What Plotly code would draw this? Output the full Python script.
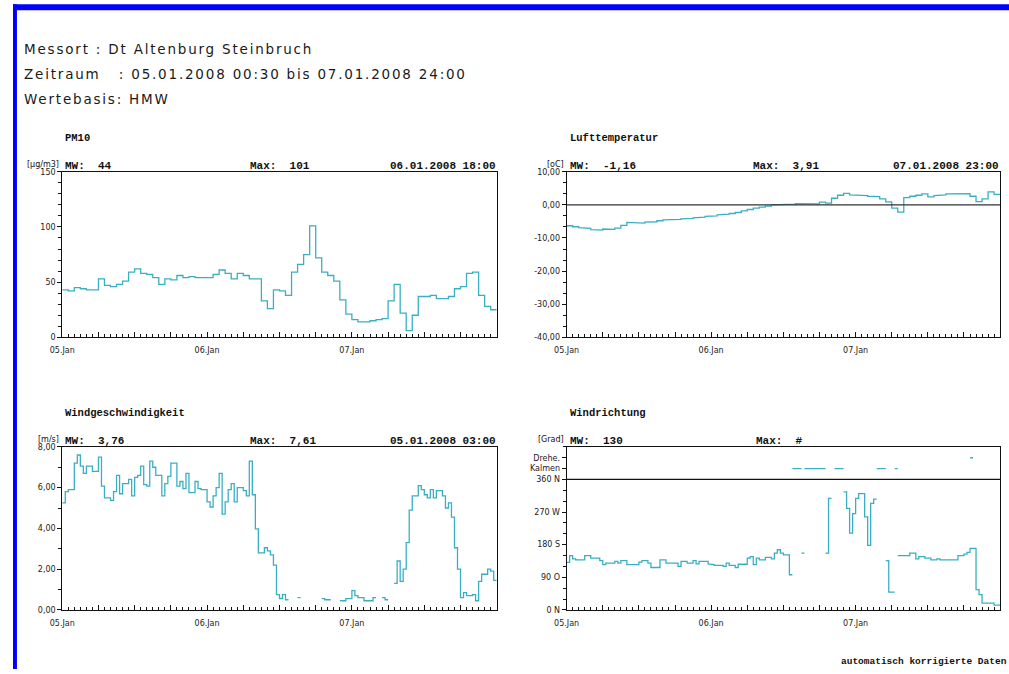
import plotly.graph_objects as go
from datetime import datetime, timedelta

# ---------------- data ----------------
START = datetime(2008, 1, 5, 0, 0)
END = datetime(2008, 1, 8, 0, 0)
DAY_TICKS = [datetime(2008, 1, 5), datetime(2008, 1, 6), datetime(2008, 1, 7)]
DAY_LABELS = ["05.Jan", "06.Jan", "07.Jan"]

# hourly readings (value of the hour ending at +1h)
PM10 = [43, 42, 45, 44, 43, 43, 53, 47, 46, 48, 51, 59, 62, 58, 57, 54, 48, 53, 52, 56, 54, 55, 54, 54,
        54, 57, 61, 58, 53, 58, 56, 53, 53, 33, 26, 43, 42, 38, 59, 66, 75, 101, 72, 59, 56, 51, 34, 21,
        16, 14, 14, 15, 16, 17, 33, 48, 22, 6, 20, 37, 37, 38, 35, 35, 37, 44, 46, 58, 59, 38, 28, 25]

TEMP = [-6.3, -6.6, -6.9, -7.1, -7.5, -7.6, -7.3, -7.4, -7.0, -6.2, -5.3, -5.3, -5.5, -5.2, -5.1, -4.8,
        -4.5, -4.6, -4.4, -4.2, -4.1, -3.9, -3.7, -3.5,
        -3.3, -3.0, -2.8, -2.6, -2.3, -1.8, -1.4, -1.0, -0.7, -0.4, 0.0, 0.1, 0.2, 0.2, 0.4, 0.3,
        0.2, 0.3, 0.8, 0.5, 2.0, 2.9, 3.5, 3.0,
        2.9, 2.8, 2.6, 2.5, 1.8, 0.9, -1.0, -2.2, 2.2, 2.6, 2.9, 3.3, 2.4, 2.8, 3.0, 3.3,
        3.4, 3.4, 3.4, 2.6, 1.0, 1.8, 3.9, 3.2]

# half-hourly readings
WIND_SPEED = [5.25, 5.8, 5.9, 5.9, 7.2, 7.6, 7.05, 6.7, 7.05, 7.05, 6.8, 6.8,
              7.5, 6.07, 5.5, 5.5, 5.37, 5.8, 6.6, 5.7, 6.2, 6.2, 6.4, 5.6,
              6.5, 6.6, 7.05, 6.15, 6.07, 7.3, 7.0, 6.6, 6.6, 5.6, 6.2, 6.55,
              7.2, 7.2, 6.07, 6.3, 5.95, 6.7, 5.75, 5.75, 6.3, 5.95, 5.9, 5.9,
              5.3, 5.05, 5.6, 6.0, 6.7, 4.7, 5.3, 5.9, 6.2, 5.3, 6.0, 6.0,
              5.85, 5.6, 7.3, 5.65, 3.98, 2.8, 2.8, 3.05, 2.9, 2.7, 2.2, 0.75,
              0.56, 0.75, 0.5, None, None, None, 0.6, None, None, None, None, None,
              None, None, 0.55, 0.5, 0.5, None, None, None, 0.45, 0.45, 0.55, 0.55,
              0.95, 0.7, 0.6, 0.6, 0.45, 0.45, 0.45, 0.6, None, None, 0.6, 0.5,
              None, None, 1.3, 2.4, 1.4, 2.0, 3.3, 4.9, 5.6, 5.6, 6.1, 5.9,
              5.65, 5.5, 5.9, 5.5, 5.85, 5.85, 5.6, 5.0, 5.25, 4.55, 3.05, 2.0,
              0.6, 0.85, 0.7, 0.7, 0.75, 0.45, 1.4, 1.75, 1.75, 2.0, 1.9, 1.45]

WIND_DIR = [131, 150, 141, 138, 138, 138, 150, 150, 143, 143, 143, 136,
            125, 129, 129, 129, 134, 129, 136, 136, 125, 125, 125, 125,
            132, 136, 136, 129, 117, 117, 117, 138, 138, 129, 129, 129,
            129, 120, 134, 134, 129, 129, 136, 127, 134, 134, 134, 127,
            125, 123, 123, 123, 120, 129, 123, 123, 117, 126, 126, 126,
            143, 147, 125, 143, 138, 138, 145, 145, 141, 157, 166, 157,
            152, 152, 97, None, None, None, 157, None, None, None, None, None,
            None, None, 157, 308, None, None, None, None, 326, 280, 212, 266,
            308, 321, 321, 257, 178, 294, 306, None, None, None, 136, 49,
            49, None, 150, 150, 150, 150, 157, 157, 141, 147, 147, 143,
            143, 138, 138, 141, 138, 138, 138, 138, 138, 138, 150, 150,
            154, 159, 170, 170, 56, 42, 19, 19, 19, 19, 13, 13]

KALMEN_SLOTS = [75, 76, 77, 79, 80, 81, 82, 83, 84, 85, 89, 90, 91, 103, 104, 105, 109]
DREHE_SLOTS = [134]

TITLES = ["PM10", "Lufttemperatur", "Windgeschwindigkeit", "Windrichtung"]
UNITS = ["[µg/m3]", "[oC]", "[m/s]", "[Grad]"]
MEANS = ["44", "-1,16", "3,76", "130"]
MAXES = ["101", "3,91", "7,61", "#"]
MAX_TIMES = ["06.01.2008 18:00", "07.01.2008 23:00", "05.01.2008 03:00", ""]

PM10_TICKS = [0, 50, 100, 150]
PM10_LABELS = ["0", "50", "100", "150"]
TEMP_TICKS = [-40, -30, -20, -10, 0, 10]
TEMP_LABELS = ["-40,00", "-30,00", "-20,00", "-10,00", "0,00", "10,00"]
WS_TICKS = [0, 2, 4, 6, 8]
WS_LABELS = ["0,00", "2,00", "4,00", "6,00", "8,00"]
KALMEN_CODE = 390
DREHE_CODE = 420
WD_TICKS = [0, 90, 180, 270, 360, KALMEN_CODE, DREHE_CODE]
WD_LABELS = ["0 N", "90 O", "180 S", "270 W", "360 N", "Kalmen", "Drehe."]

HEADER = ["Messort : Dt Altenburg Steinbruch",
          "Zeitraum\u00a0\u00a0\u00a0: 05.01.2008 00:30 bis 07.01.2008 24:00",
          "Wertebasis: HMW"]
FOOTER = "automatisch korrigierte Daten"

# ---------------- helpers ----------------
W, H = 1009, 674
LINE_COLOR = "#3aafc4"
# the photographed page appears slightly scaled/shifted; compensate
SX, OX = 0.9883, 10.7
SY, OY = 0.9863, 2.8


def fx(px):
    return max(0.0, min(1.0, ((px - OX) / SX) / W))


def fy(py):
    return max(0.0, min(1.0, 1 - ((py - OY) / SY) / H))


def step_xy(values, minutes):
    xs, ys = [], []
    for j, v in enumerate(values):
        t0 = START + timedelta(minutes=minutes * j)
        t1 = t0 + timedelta(minutes=minutes)
        if v is None:
            xs.append(None)
            ys.append(None)
        else:
            xs += [t0, t1]
            ys += [v, v]
    return xs, ys


fig = go.Figure()

series = [(PM10, 60, "x", "y"), (TEMP, 60, "x2", "y2"),
          (WIND_SPEED, 30, "x3", "y3"), (WIND_DIR, 30, "x4", "y4")]
for vals, mins, xa, ya in series:
    xs, ys = step_xy(vals, mins)
    fig.add_trace(go.Scatter(x=xs, y=ys, mode="lines", xaxis=xa, yaxis=ya,
                             line=dict(color=LINE_COLOR, width=1.3),
                             connectgaps=False, showlegend=False, hoverinfo="skip"))

n_dir = len(WIND_DIR)
for slots, code in [(KALMEN_SLOTS, KALMEN_CODE), (DREHE_SLOTS, DREHE_CODE)]:
    flags = [code if j in slots else None for j in range(n_dir)]
    xs, ys = step_xy(flags, 30)
    fig.add_trace(go.Scatter(x=xs, y=ys, mode="lines", xaxis="x4", yaxis="y4",
                             line=dict(color=LINE_COLOR, width=1.3),
                             connectgaps=False, showlegend=False, hoverinfo="skip"))

# reference lines
fig.add_trace(go.Scatter(x=[START, END], y=[0, 0], mode="lines", xaxis="x2", yaxis="y2",
                         line=dict(color="#333", width=1.4), showlegend=False, hoverinfo="skip"))
fig.add_trace(go.Scatter(x=[START, END], y=[360, 360], mode="lines", xaxis="x4", yaxis="y4",
                         line=dict(color="#111", width=1.3), showlegend=False, hoverinfo="skip"))

# axes
x_major = [START + timedelta(hours=6 * k) for k in range(13)]
x_text = []
for t in x_major:
    x_text.append(DAY_LABELS[DAY_TICKS.index(t)] if t in DAY_TICKS else "")

tickfont = dict(family="DejaVu Sans", size=8, color="#222")
left_dom = [fx(60), fx(495)]
right_dom = [fx(565), fx(999)]
top_dom = [fy(336), fy(170.5)]
bot_dom = [fy(608.5), fy(445.5)]


def xaxis(dom, anchor):
    return dict(domain=dom, anchor=anchor, type="date", range=[START, END],
                tickmode="array", tickvals=x_major, ticktext=x_text,
                ticks="inside", ticklen=5, tickcolor="#111", tickwidth=1,
                minor=dict(dtick=3600000, ticks="inside", ticklen=3, tickcolor="#111"),
                showline=True, linecolor="#111", linewidth=1, mirror=True,
                showgrid=False, zeroline=False, tickfont=tickfont, ticklabelstandoff=5,
                fixedrange=True)


def yaxis(dom, anchor, rng, tv, tt, minor_dt):
    return dict(domain=dom, anchor=anchor, range=rng, tickmode="array",
                tickvals=tv, ticktext=tt, ticks="outside", ticklen=4, tickcolor="#111",
                minor=dict(dtick=minor_dt, tick0=0, ticks="outside", ticklen=3, tickcolor="#111"),
                showline=True, linecolor="#111", linewidth=1, mirror=True,
                showgrid=False, zeroline=False, tickfont=tickfont, fixedrange=True)


fig.update_layout(
    autosize=True, margin=dict(l=0, r=0, t=0, b=0),
    paper_bgcolor="white", plot_bgcolor="white",
    xaxis=xaxis(left_dom, "y"), yaxis=yaxis(top_dom, "x", [0, 150], PM10_TICKS, PM10_LABELS, 10),
    xaxis2=xaxis(right_dom, "y2"), yaxis2=yaxis(top_dom, "x2", [-40, 10], TEMP_TICKS, TEMP_LABELS, 10 / 3),
    xaxis3=xaxis(left_dom, "y3"), yaxis3=yaxis(bot_dom, "x3", [0, 8], WS_TICKS, WS_LABELS, 1),
    xaxis4=xaxis(right_dom, "y4"), yaxis4=yaxis(bot_dom, "x4", [0, 450], WD_TICKS, WD_LABELS, 30),
)

ann = []
# header
for i, line in enumerate(HEADER):
    ann.append(dict(text='<span style="letter-spacing:1.8px">%s</span>' % line,
                    x=fx(20), y=fy(48 + 25 * i), xanchor="left", yanchor="middle",
                    font=dict(family="DejaVu Sans", size=13.5, color="#1a1a1a")))

mono = "Liberation Mono"
panels = [(60, 495, 137, 165), (565, 999, 137, 165), (60, 495, 412, 440), (565, 999, 412, 440)]
max_x = [246, 750, 246, 753]
for k, (x0, x1, ty, my) in enumerate(panels):
    ann.append(dict(text="<b>%s</b>" % TITLES[k], x=fx(x0 + 1), y=fy(ty), xanchor="left", yanchor="middle",
                    font=dict(family=mono, size=10.5, color="#111")))
    ann.append(dict(text="<b>MW:  %s</b>" % MEANS[k], x=fx(x0 + 1), y=fy(my), xanchor="left",
                    yanchor="middle", font=dict(family=mono, size=11, color="#111")))
    ann.append(dict(text="<b>Max:  %s</b>" % MAXES[k], x=fx(max_x[k]), y=fy(my), xanchor="left",
                    yanchor="middle", font=dict(family=mono, size=11, color="#111")))
    if MAX_TIMES[k]:
        ann.append(dict(text="<b>%s</b>" % MAX_TIMES[k], x=fx(x1 + 1), y=fy(my), xanchor="right",
                        yanchor="middle", font=dict(family=mono, size=11, color="#111")))
    ann.append(dict(text=UNITS[k], x=fx(x0 - 1), y=fy(my - 2), xanchor="right", yanchor="middle",
                    font=dict(family="DejaVu Sans", size=8, color="#111")))

ann.append(dict(text="<b>%s</b>" % FOOTER, x=fx(1008), y=fy(660), xanchor="right", yanchor="middle",
                font=dict(family=mono, size=9.5, color="#111")))

for a in ann:
    a.update(xref="paper", yref="paper", showarrow=False)
fig.update_layout(annotations=ann)

# blue frame (left and top edges)
fig.update_layout(shapes=[
    dict(type="rect", xref="paper", yref="paper", x0=0, x1=4 / W, y0=0, y1=fy(3),
         fillcolor="#0000ff", line=dict(width=0), layer="above"),
    dict(type="rect", xref="paper", yref="paper", x0=0, x1=1, y0=fy(9), y1=fy(3),
         fillcolor="#0000ff", line=dict(width=0), layer="above"),
])

fig.write_html("out.html",
               default_width="100vw", default_height="100vh",
               config=dict(displayModeBar=False, responsive=True),
               post_script="document.documentElement.style.margin='0px';"
                           "document.body.style.margin='0px';document.body.style.padding='0px';"
                           "document.documentElement.style.overflow='hidden';"
                           "document.body.style.overflow='hidden';"
                           "window.dispatchEvent(new Event('resize'));")
